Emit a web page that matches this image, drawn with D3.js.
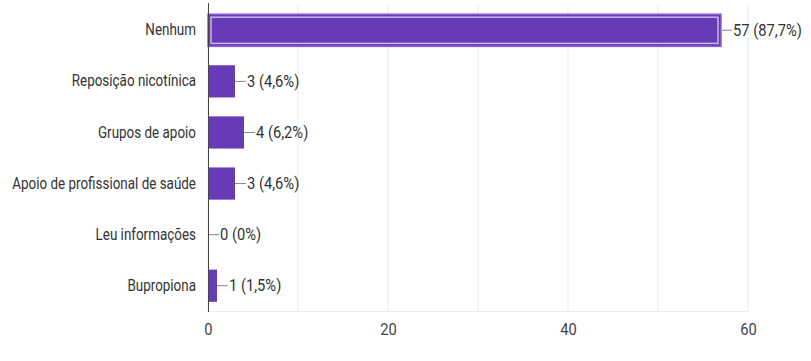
<!DOCTYPE html>
<html>
<head>
<meta charset="utf-8">
<script src="https://cdn.jsdelivr.net/npm/d3@7"></script>
<style>
  body { margin: 0; background: #fff; }
  text { font-family: Roboto, "Liberation Sans", sans-serif; }
</style>
</head>
<body>
<div id="chart"></div>
<script>
// Chart data
const categories = ["Nenhum", "Reposição nicotínica", "Grupos de apoio", "Apoio de profissional de saúde", "Leu informações", "Bupropiona"];
const counts = [57, 3, 4, 3, 0, 1];
const percents = ["87,7%", "4,6%", "6,2%", "4,6%", "0%", "1,5%"];
const xTicks = [0, 20, 40, 60];
const gridTicks = [0, 10, 20, 30, 40, 50, 60];

// Declare the chart dimensions and margins.
const width = 811;
const height = 361;
const marginTop = 5;
const marginRight = 63;
const marginBottom = 50;
const marginLeft = 208;
const fontSize = 16;
// The reference text is drawn condensed, so squeeze glyphs horizontally.
const labelSqueeze = 0.84;
const valueSqueeze = 0.92;

const svg = d3.select("#chart").append("svg")
    .attr("width", width)
    .attr("height", height);

// Scales
const x = d3.scaleLinear()
    .domain([0, 60])
    .range([marginLeft, width - marginRight]);

const y = d3.scaleBand()
    .domain(categories)
    .range([marginTop, height - marginBottom])
    .paddingInner(0.37)
    .paddingOuter(0.18);

// Vertical gridlines
svg.append("g")
    .selectAll("line")
    .data(gridTicks)
    .join("line")
    .attr("x1", d => x(d))
    .attr("x2", d => x(d))
    .attr("y1", marginTop)
    .attr("y2", height - marginBottom)
    .attr("stroke", "#ebebeb")
    .attr("stroke-width", 1);

// Bottom border of grid
svg.append("line")
    .attr("x1", marginLeft)
    .attr("x2", x(60))
    .attr("y1", height - marginBottom + 0.5)
    .attr("y2", height - marginBottom + 0.5)
    .attr("stroke", "#ebebeb");

// Bars
const bars = svg.append("g");
bars.selectAll("rect")
    .data(categories)
    .join("rect")
    .attr("x", x(0))
    .attr("y", d => y(d))
    .attr("width", (d, i) => x(counts[i]) - x(0))
    .attr("height", y.bandwidth())
    .attr("fill", "#673ab7");

// Highlight on first bar (hover style)
svg.append("rect")
    .attr("x", x(0) + 3)
    .attr("y", y(categories[0]) + 3)
    .attr("width", x(counts[0]) - x(0) - 6)
    .attr("height", y.bandwidth() - 6)
    .attr("fill", "none")
    .attr("stroke", "#c9b6ea")
    .attr("stroke-width", 1.5);
svg.append("rect")
    .attr("x", x(0))
    .attr("y", y(categories[0]))
    .attr("width", x(counts[0]) - x(0))
    .attr("height", y.bandwidth())
    .attr("fill", "none")
    .attr("stroke", "#8a63d2")
    .attr("stroke-width", 1.5);

// Value label leaders and text
const labels = svg.append("g");
categories.forEach((c, i) => {
    const xEnd = x(counts[i]);
    const cy = y(c) + y.bandwidth() / 2;
    labels.append("line")
        .attr("x1", xEnd + (i === 0 ? 1 : 0))
        .attr("x2", xEnd + 11)
        .attr("y1", cy)
        .attr("y2", cy)
        .attr("stroke", "#888")
        .attr("stroke-width", 1);
    labels.append("text")
        .attr("transform", `translate(${xEnd + 12},${cy}) scale(${valueSqueeze},1)`)
        .attr("dy", "0.35em")
        .attr("font-size", fontSize)
        .attr("fill", "#333")
        .text(`${counts[i]} (${percents[i]})`);
});

// Y axis (category labels)
const gy = svg.append("g")
    .attr("transform", `translate(${marginLeft},0)`)
    .call(d3.axisLeft(y).tickSize(0).tickPadding(12));
gy.select(".domain")
    .attr("stroke", "#444")
    .attr("d", `M0.5,${marginTop - 2}V${height - marginBottom + 1}`);
gy.selectAll("text")
    .attr("x", -12 / labelSqueeze)
    .attr("transform", `scale(${labelSqueeze},1)`)
    .attr("font-size", fontSize)
    .attr("fill", "#333")
    .style("font-family", "Roboto, 'Liberation Sans', sans-serif");

// X axis ticks
const gx = svg.append("g")
    .attr("transform", `translate(0,${height - marginBottom})`)
    .call(d3.axisBottom(x).tickValues(xTicks).tickSize(0).tickPadding(13));
gx.select(".domain").remove();
gx.selectAll("text")
    .attr("transform", `scale(${valueSqueeze},1)`)
    .attr("font-size", fontSize)
    .attr("fill", "#444")
    .style("font-family", "Roboto, 'Liberation Sans', sans-serif");
</script>
</body>
</html>
